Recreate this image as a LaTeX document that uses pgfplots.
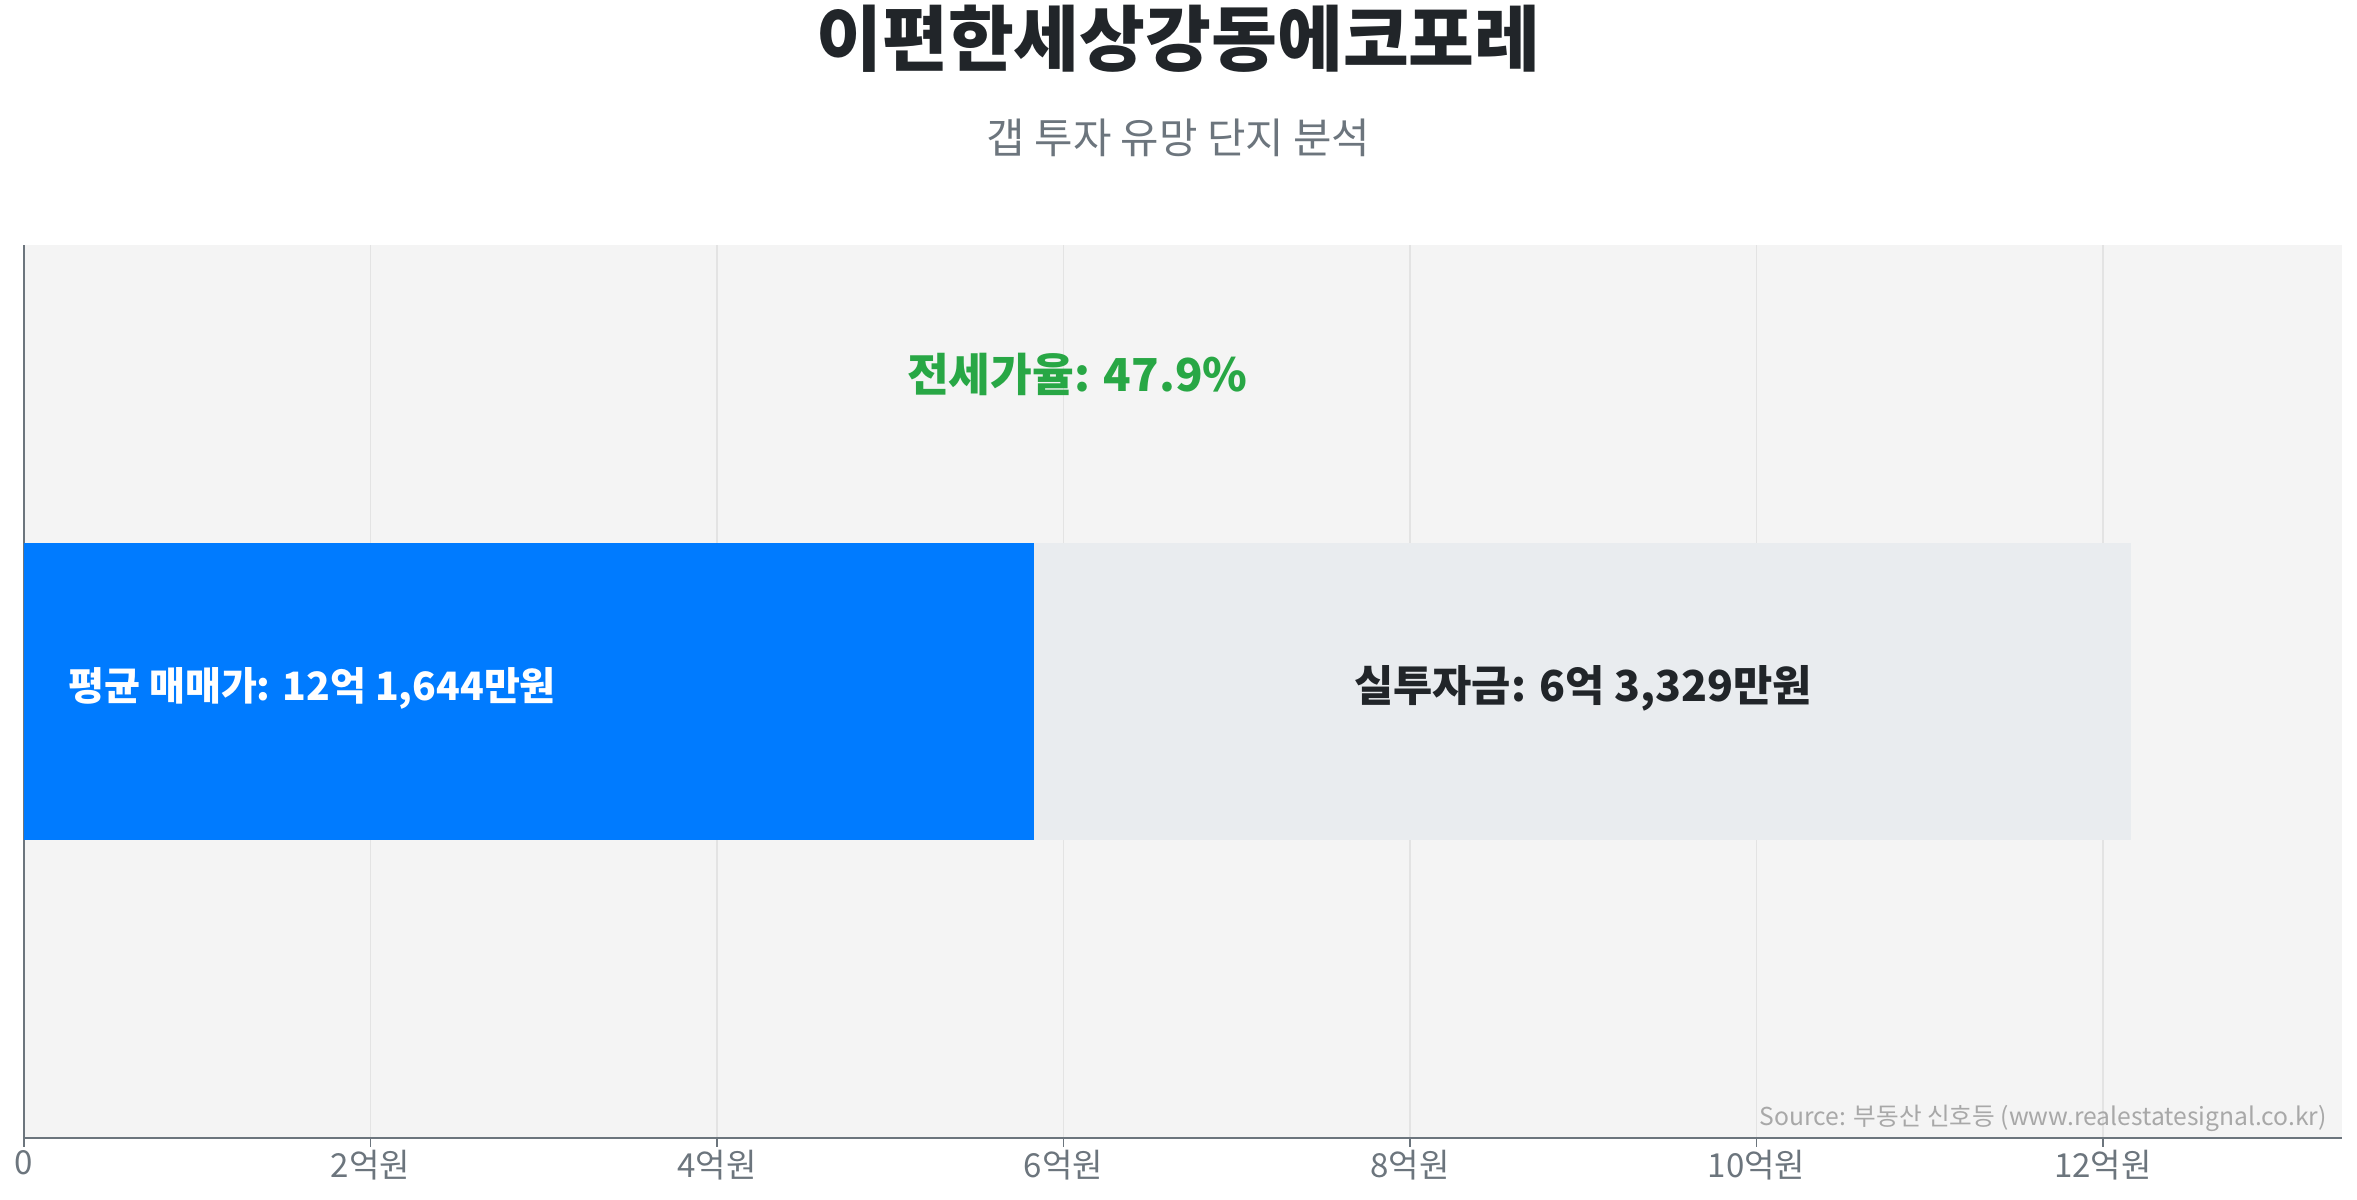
\documentclass[border=0pt]{standalone}
\usepackage{pgfplots}
\pgfplotsset{compat=1.18}
\usepackage{fontspec}
\setmainfont{Noto Sans CJK KR}

\definecolor{titlec}{HTML}{212529}
\definecolor{subc}{HTML}{6C757D}
\definecolor{jeonse}{HTML}{007BFF}
\definecolor{gapc}{HTML}{E9ECEF}
\definecolor{bgc}{HTML}{F4F4F4}
\definecolor{gridc}{HTML}{E3E3E3}
\definecolor{ratec}{HTML}{28A745}
\definecolor{srcc}{HTML}{A8A8A8}

\begin{document}
\begin{tikzpicture}
\path[use as bounding box] (0,0) rectangle (784pt,399pt);

\node[font=\fontsize{23.8}{28}\selectfont\bfseries, text=titlec] at (392pt,386pt) {이편한세상강동에코포레};
\node[font=\fontsize{13.9}{17}\selectfont, text=subc] at (392pt,353pt) {갭 투자 유망 단지 분석};

\begin{axis}[
    at={(8pt,20.5pt)}, anchor=south west,
    scale only axis,
    width=771pt, height=297pt,
    xbar stacked,
    bar width=99pt,
    xmin=0, xmax=13.38,
    ymin=-1.5, ymax=1.5,
    ytick=\empty,
    xtick={0,2,4,6,8,10,12},
    xticklabels={0,2억원,4억원,6억원,8억원,10억원,12억원},
    xticklabel style={font=\fontsize{11}{13}\selectfont, text=subc, yshift=2.5pt},
    axis x line*=bottom, axis y line*=left,
    axis line style={draw=subc, line width=0.6pt},
    x axis line style={-}, y axis line style={-},
    tick style={draw=subc, line width=0.5pt},
    major tick length=3pt,
    tick align=outside,
    xmajorgrids=true,
    major grid style={draw=gridc, line width=0.5pt},
    axis background/.style={fill=bgc},
    clip=false,
]
% jeonse price (평균 매매가 - 실투자금) and gap investment, in 억원
\addplot[fill=jeonse, draw=none] coordinates {(5.8315,0)};
\addplot[fill=gapc, draw=none] coordinates {(6.3329,0)};

\coordinate (lblA) at (axis cs:0.2516,0.01);
\coordinate (lblB) at (axis cs:8.998,0.01);
\coordinate (lblR) at (axis cs:6.08,1.066);
\coordinate (lblS) at (rel axis cs:0.995,0.003);
\end{axis}

\node[anchor=west, inner xsep=0pt, text=white, font=\fontsize{13}{16}\selectfont\bfseries] at (lblA) {평균 매매가: 12억 1,644만원};
\node[text=titlec, font=\fontsize{14.2}{17}\selectfont\bfseries] at (lblB) {실투자금: 6억 3,329만원};
\node[text=ratec, font=\fontsize{15.1}{18}\selectfont\bfseries] at (lblR) {전세가율: 47.9\%};
\node[anchor=south east, inner sep=1pt, text=srcc, font=\fontsize{8.2}{10}\selectfont] at (lblS) {Source: 부동산 신호등 (www.realestatesignal.co.kr)};
\end{tikzpicture}
\end{document}
